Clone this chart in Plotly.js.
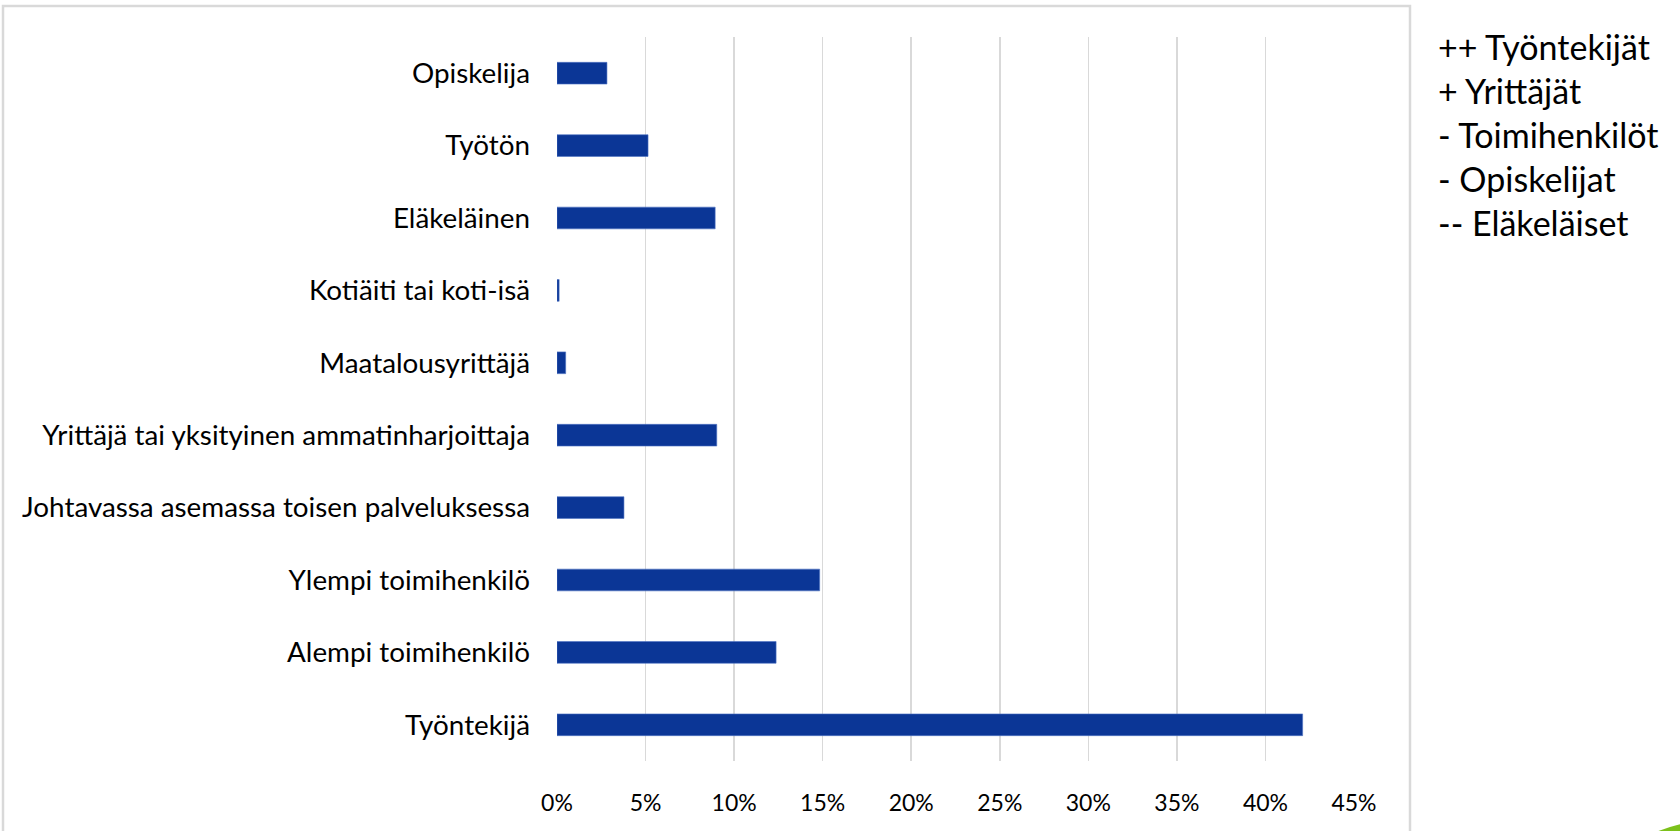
<!DOCTYPE html>
<html>
<head>
<meta charset="utf-8">
<script src="https://cdn.plot.ly/plotly-3.0.1.min.js"></script>
<style>
html,body{margin:0;padding:0;background:#fff;}
#chart{width:1680px;height:831px;}
</style>
</head>
<body>
<div id="chart"></div>
<script>
// Categories in chart order (first = bottom)
const categories = [
  "Työntekijä",
  "Alempi toimihenkilö",
  "Ylempi toimihenkilö",
  "Johtavassa asemassa toisen palveluksessa",
  "Yrittäjä tai yksityinen ammatinharjoittaja",
  "Maatalousyrittäjä",
  "Kotiäiti tai koti-isä",
  "Eläkeläinen",
  "Työtön",
  "Opiskelija"
];
const shares = [0.421, 0.1237, 0.1483, 0.0378, 0.0902, 0.0049, 0.0012, 0.0893, 0.0514, 0.0282];
const tickVals = [0, 0.05, 0.10, 0.15, 0.20, 0.25, 0.30, 0.35, 0.40, 0.45];
const tickLabels = ["0%", "5%", "10%", "15%", "20%", "25%", "30%", "35%", "40%", "45%"];
const legendItems = ["++ Työntekijät", "+ Yrittäjät", "- Toimihenkilöt", "- Opiskelijat", "-- Eläkeläiset"];

// Layout geometry (pixels)
const W = 1680, H = 831;
const plotL = 557, plotR = 1354, plotT = 37, plotB = 761;
const pw = plotR - plotL, ph = plotB - plotT;
const px = v => (v - plotL) / pw;
const py = v => (plotB - v) / ph;

const FONT = "Lato, 'Open Sans', sans-serif";

const annotations = legendItems.map((t, i) => ({
  text: t,
  xref: "paper", yref: "paper",
  x: px(1436), y: py(46 + i * 44.2),
  xanchor: "left", yanchor: "middle",
  showarrow: false,
  font: {family: FONT, size: 34, color: "#000000"}
}));

const shapes = [
  { type: "rect", xref: "paper", yref: "paper",
    x0: px(3), x1: px(1410), y0: py(6), y1: py(900),
    line: {color: "#d9d9d9", width: 2.5}, fillcolor: "rgba(0,0,0,0)", layer: "below" },
  { type: "path", xref: "paper", yref: "paper",
    path: "M " + px(1656) + "," + py(832) + " Q " + px(1668) + "," + py(827) + " " + px(1681) + "," + py(824) + " L " + px(1681) + "," + py(832) + " Z",
    line: {color: "rgba(0,0,0,0)", width: 0}, fillcolor: "#7cc11b" }
];

const data = [{
  type: "bar",
  orientation: "h",
  y: categories,
  x: shares,
  marker: {color: "#0b3696", line: {color: "#4f74c4", width: 0.6}},
  hoverinfo: "x+y"
}];

const layout = {
  width: W, height: H,
  margin: {l: plotL, r: W - plotR, t: plotT, b: H - plotB, pad: 0},
  paper_bgcolor: "#ffffff",
  plot_bgcolor: "#ffffff",
  showlegend: false,
  bargap: 0.7,
  font: {family: FONT, color: "#000000"},
  xaxis: {
    range: [0, 0.45],
    tickvals: tickVals,
    ticktext: tickLabels,
    showgrid: true,
    gridcolor: "#d9d9d9",
    gridwidth: 1.5,
    zeroline: false,
    showline: false,
    ticks: "",
    ticklabelstandoff: 26,
    tickfont: {family: FONT, size: 23, color: "#000000"},
    fixedrange: true
  },
  yaxis: {
    type: "category",
    showgrid: false,
    zeroline: false,
    showline: false,
    ticks: "",
    ticklabelstandoff: 26,
    tickfont: {family: FONT, size: 27.8, color: "#000000"},
    fixedrange: true
  },
  annotations: annotations,
  shapes: shapes
};

Plotly.newPlot("chart", data, layout, {displayModeBar: false, staticPlot: true});
</script>
</body>
</html>
